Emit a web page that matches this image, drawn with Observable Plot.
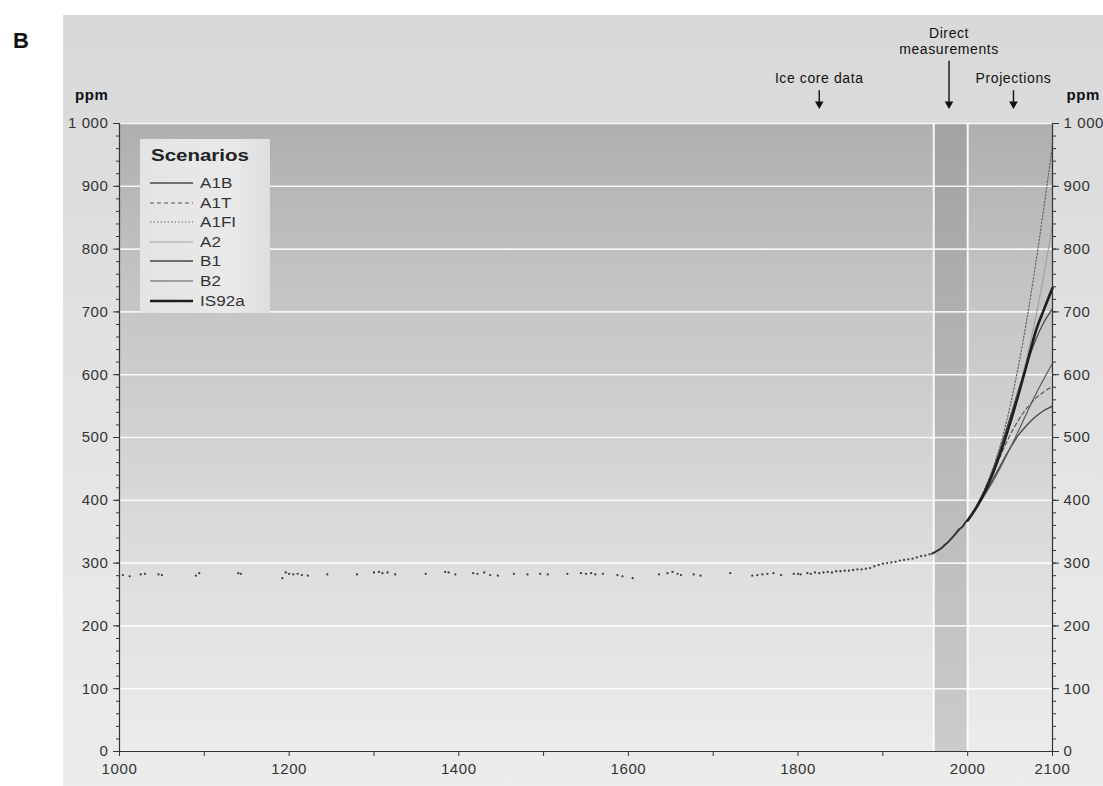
<!DOCTYPE html>
<html><head><meta charset="utf-8">
<script src="https://cdn.jsdelivr.net/npm/d3@7"></script>
<script src="https://cdn.jsdelivr.net/npm/@observablehq/plot@0.6"></script>
<style>
body{margin:0;background:#fff;}
#wrap{position:relative;width:1103px;height:786px;overflow:hidden;font-family:"Liberation Sans",Arial,sans-serif;}
#panel{position:absolute;left:63px;top:15px;right:0;bottom:0;background:linear-gradient(#d8d8d8,#e3e3e3 50%,#ececec);}
#B{position:absolute;left:13px;top:28px;font-weight:bold;font-size:22px;color:#111;}
#chart{position:absolute;left:0;top:0;}
#legend{position:absolute;left:140px;top:139px;width:130px;height:174px;background:linear-gradient(90deg,#e4e4e4,#e9e9e9 70%,#dedede);}
#legend .t{position:absolute;left:11px;top:8px;font-weight:bold;font-size:16px;color:#222;transform:scaleX(1.28);transform-origin:left;}
#legend .row{position:absolute;left:10px;height:18px;}
#legend .row svg{position:absolute;left:0;top:0;}
#legend .row span{position:absolute;left:50px;top:0;font-size:14px;line-height:18px;color:#333;transform:scaleX(1.22);transform-origin:left;white-space:nowrap;}
</style></head>
<body><div id="wrap"><div id="panel"></div><div id="B">B</div><div id="chart"></div><div id="legend"></div></div>
<script>
// ---- Data ----
const iceYears = [1004,1012,1025,1030,1046,1050,1090,1094,1140,1143,1192,1196,1200,1205,1210,1215,1222,1245,1280,1300,1306,1310,1316,1325,1361,1384,1388,1396,1417,1422,1430,1437,1446,1465,1481,1496,1505,1528,1544,1550,1556,1561,1570,1587,1593,1605,1636,1646,1652,1658,1662,1677,1685,1720,1746,1752,1758,1764,1771,1780,1795,1800,1803,1811,1815,1820,1825,1830,1835,1840,1845,1850,1855,1860,1865,1870,1875,1880,1885,1890,1895,1900,1905,1910,1915,1920,1925,1930,1935,1940,1945,1950,1955];
const icePpm   = [281,279,282,283,282,281,280,284,284,283,276,285,283,282,283,281,280,282,282,285,286,284,285,282,283,286,285,282,284,283,285,281,280,283,282,283,282,283,284,283,284,282,283,281,279,276,282,284,286,283,281,282,280,284,280,281,282,283,284,281,283,283,282,284,283,285,284,285,286,285,287,287,288,288,289,290,290,291,292,295,297,299,300,301,302,304,305,306,307,309,311,312,314];
const directYears = [1958,1962,1966,1970,1974,1978,1982,1986,1990,1994,1998,2000];
const directPpm   = [315,318,321,325,330,335,341,347,354,358,366,368];
const projYears = [2000,2010,2020,2030,2040,2050,2060,2070,2080,2090,2100];
const A1B   = [368,389,416,450,489,532,576,618,655,684,705];
const A1T   = [368,389,415,444,475,504,528,547,562,573,581];
const A1FI  = [368,390,418,452,495,550,615,690,775,868,965];
const A2    = [368,388,414,445,482,525,574,629,690,760,840];
const B1    = [368,387,410,434,459,483,504,520,533,543,550];
const B2    = [368,387,408,431,456,483,511,540,568,594,618];
const IS92a = [368,388,413,444,481,523,569,618,668,704,738];
const scenarioNames = ["A1B","A1T","A1FI","A2","B1","B2","IS92a"];
const scenarioValues = [A1B,A1T,A1FI,A2,B1,B2,IS92a];
const yTickValues = [0,100,200,300,400,500,600,700,800,900,1000];
const xTickLabels = [1000,1200,1400,1600,1800,2000,2100];
const directPeriod = [1960,2000];
const notes = ["Ice core data","Direct\nmeasurements","Projections"];
const noteYears = [1825,1978,2054];

// ---- Styles ----
const styles = {
  A1B:{stroke:"#4a4a4a",w:1.3,dash:null},
  A1T:{stroke:"#555",w:1.2,dash:"4,3"},
  A1FI:{stroke:"#666",w:1.2,dash:"1.5,2"},
  A2:{stroke:"#a0a0a0",w:1.1,dash:null},
  B1:{stroke:"#444",w:1.3,dash:null},
  B2:{stroke:"#5a5a5a",w:1.2,dash:null},
  IS92a:{stroke:"#1e1e1e",w:2.6,dash:null}
};

const ice = iceYears.map((y,i)=>({year:y,ppm:icePpm[i]}));
const direct = directYears.map((y,i)=>({year:y,ppm:directPpm[i]}));
const proj = scenarioNames.map((n,k)=>projYears.map((y,i)=>({scenario:n,year:y,ppm:scenarioValues[k][i]})));
const minorY = d3.range(0,1001,20);
const xTicks = d3.range(1000,2101,100);
const fmtY = d => d===1000 ? "1 000" : String(d);

const noteData = notes.map((t,i)=>({label:t,year:noteYears[i]}));
const noteTextY = [1072,1132,1072];
const noteTopY = [1053,1100,1053];
const headY = 1031;

const marks = [
  Plot.frame({fill:"url(#bgGrad)"}),
  Plot.rect([directPeriod],{x1:d=>d[0],x2:d=>d[1],y1:0,y2:1000,fill:"url(#bandGrad)"}),
  Plot.ruleY(yTickValues.slice(1),{stroke:"white",strokeWidth:1.6,strokeOpacity:0.85}),
  Plot.ruleX(directPeriod,{stroke:"white",strokeWidth:2,strokeOpacity:0.9}),
  Plot.dot(ice,{x:"year",y:"ppm",r:1.15,fill:"#3f3f3f",stroke:null}),
  Plot.line(direct,{x:"year",y:"ppm",stroke:"#333",strokeWidth:2,curve:"monotone-x"}),
  ...proj.map(p=>{const s=styles[p[0].scenario];return Plot.line(p,{x:"year",y:"ppm",stroke:s.stroke,strokeWidth:s.w,strokeDasharray:s.dash,curve:"monotone-x"});}),
  Plot.ruleX([1000,2100],{stroke:"#333",strokeWidth:1.2}),
  Plot.ruleY([0],{stroke:"#333",strokeWidth:1.2}),
  Plot.axisY(yTickValues,{anchor:"left",tickSize:6,tickPadding:5,tickFormat:fmtY,label:null}),
  Plot.axisY(minorY,{anchor:"left",tickSize:3,tickFormat:()=>"",label:null}),
  Plot.axisY(yTickValues,{anchor:"right",tickSize:6,tickPadding:5,tickFormat:fmtY,label:null}),
  Plot.axisY(minorY,{anchor:"right",tickSize:3,tickFormat:()=>"",label:null}),
  Plot.axisX(xTicks,{anchor:"bottom",tickSize:5,tickPadding:7,tickFormat:d=>xTickLabels.includes(d)?String(d):"",label:null}),
  Plot.text(["ppm"],{frameAnchor:"top-left",dx:-11,dy:-34,textAnchor:"end",fontWeight:"bold",fontSize:15,fill:"#111"}),
  Plot.text(["ppm"],{frameAnchor:"top-right",dx:14,dy:-34,textAnchor:"start",fontWeight:"bold",fontSize:15,fill:"#111"}),
  Plot.text(noteData,{x:"year",y:(d,i)=>noteTextY[i],text:"label",fontSize:14,lineHeight:1.15,fill:"#111"}),
  Plot.link(noteData,{x1:"year",x2:"year",y1:(d,i)=>noteTopY[i],y2:headY,stroke:"#111",strokeWidth:1.4}),
  Plot.dot(noteData,{x:"year",y:headY,symbol:"triangle",rotate:180,r:3.2,fill:"#111",stroke:null})
];

const svg = Plot.plot({
  width:1103,height:786,
  marginLeft:119,marginRight:51,marginTop:123,marginBottom:35,
  x:{domain:[1000,2100]},
  y:{domain:[0,1000]},
  style:{background:"transparent",fontFamily:"Liberation Sans, Arial, sans-serif",fontSize:"15px",color:"#333",letterSpacing:"0.6px",overflow:"visible"},
  marks
});
const ns="http://www.w3.org/2000/svg";
const defs=document.createElementNS(ns,"defs");
defs.innerHTML=`<linearGradient id="bgGrad" x1="0" y1="0" x2="0" y2="1"><stop offset="0" stop-color="#afafaf"/><stop offset="0.25" stop-color="#c3c3c3"/><stop offset="0.5" stop-color="#d2d2d2"/><stop offset="0.75" stop-color="#e0e0e0"/><stop offset="1" stop-color="#ececec"/></linearGradient>
<linearGradient id="bandGrad" x1="0" y1="0" x2="0" y2="1"><stop offset="0" stop-color="#a2a2a2"/><stop offset="0.5" stop-color="#b8b8b8"/><stop offset="1" stop-color="#cbcbcb"/></linearGradient>`;
svg.insertBefore(defs,svg.firstChild);
document.getElementById("chart").appendChild(svg);

// ---- Legend (HTML overlay) ----
const leg=document.getElementById("legend");
const t=document.createElement("div");t.className="t";t.textContent="Scenarios";leg.appendChild(t);
scenarioNames.forEach((n,i)=>{
  const s=styles[n];
  const row=document.createElement("div");row.className="row";row.style.top=(35+i*19.6)+"px";
  row.innerHTML=`<svg width="46" height="18"><line x1="0" x2="43" y1="9" y2="9" stroke="${s.stroke}" stroke-width="${s.w}" ${s.dash?`stroke-dasharray="${s.dash}"`:""}/></svg><span>${n}</span>`;
  leg.appendChild(row);
});
</script>
</body></html>
